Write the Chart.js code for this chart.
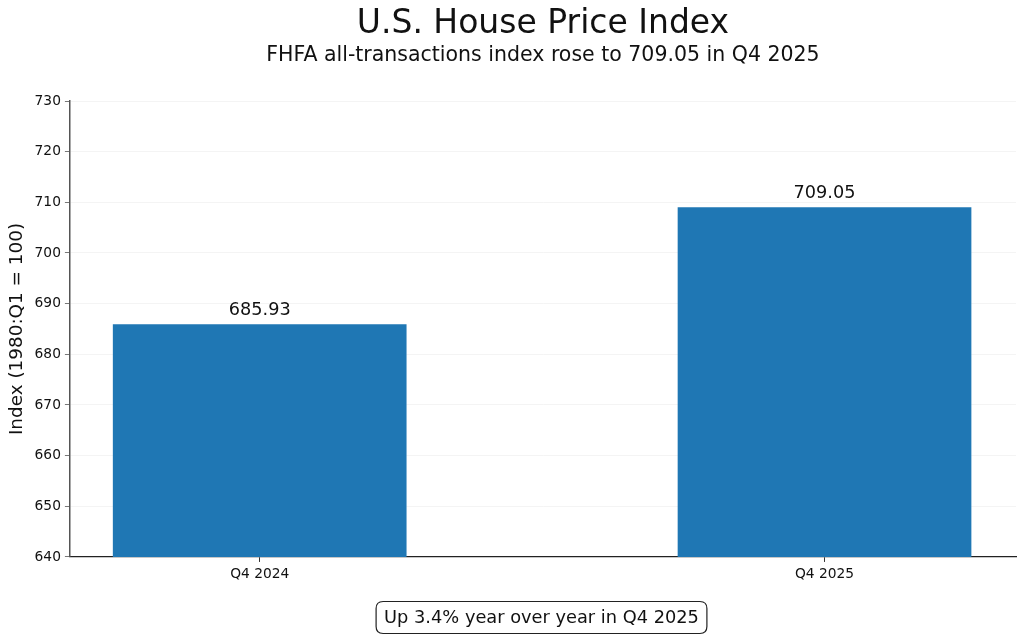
<!DOCTYPE html>
<html>
<head>
<meta charset="utf-8">
<script src="https://cdn.jsdelivr.net/npm/chart.js@4.4.1/dist/chart.umd.min.js"></script>
<style>
html,body{margin:0;padding:0;background:#fff;}
#wrap{width:1024px;height:637px;position:relative;}
</style>
</head>
<body>
<div id="wrap"><canvas id="c"></canvas></div>
<script>
const categories = ["Q4 2024", "Q4 2025"];
const indexValues = [685.93, 709.05];
const valueLabels = ["685.93", "709.05"];
const yTicks = [640, 650, 660, 670, 680, 690, 700, 710, 720, 730];
const titleText = "U.S. House Price Index";
const subtitleText = "FHFA all-transactions index rose to 709.05 in Q4 2025";
const yAxisTitle = "Index (1980:Q1 = 100)";
const noteText = "Up 3.4% year over year in Q4 2025";

const FONT = "'DejaVu Sans', sans-serif";

const titlePlugin = {
  id: 'axesTitle',
  afterDraw(chart) {
    const ctx = chart.ctx;
    const a = chart.chartArea;
    const cx = (a.left + a.right) / 2;
    ctx.save();
    ctx.fillStyle = "#111";
    ctx.textAlign = "center";
    ctx.textBaseline = "middle";
    ctx.font = "33px " + FONT;
    ctx.fillText(titleText, cx, 24);
    ctx.font = "20.5px " + FONT;
    ctx.fillText(subtitleText, cx, 56);
    ctx.restore();
  }
};

const labelPlugin = {
  id: 'valueLabels',
  afterDatasetsDraw(chart) {
    const ctx = chart.ctx;
    const meta = chart.getDatasetMeta(0);
    ctx.save();
    ctx.font = "17.7px " + FONT;
    ctx.fillStyle = "#111";
    ctx.textAlign = "center";
    ctx.textBaseline = "bottom";
    meta.data.forEach((bar, i) => {
      ctx.fillText(valueLabels[i], bar.x, bar.y - 5);
    });
    ctx.restore();
  }
};

const notePlugin = {
  id: 'note',
  afterDraw(chart) {
    const ctx = chart.ctx;
    ctx.save();
    ctx.font = "17.8px " + FONT;
    const w = ctx.measureText(noteText).width;
    const cx = 541.5, cy = 617.5;
    const padX = 8, h = 32;
    const x0 = cx - w / 2 - padX, y0 = cy - h / 2;
    const bw = w + padX * 2;
    const r = 7;
    ctx.beginPath();
    ctx.moveTo(x0 + r, y0);
    ctx.lineTo(x0 + bw - r, y0);
    ctx.quadraticCurveTo(x0 + bw, y0, x0 + bw, y0 + r);
    ctx.lineTo(x0 + bw, y0 + h - r);
    ctx.quadraticCurveTo(x0 + bw, y0 + h, x0 + bw - r, y0 + h);
    ctx.lineTo(x0 + r, y0 + h);
    ctx.quadraticCurveTo(x0, y0 + h, x0, y0 + h - r);
    ctx.lineTo(x0, y0 + r);
    ctx.quadraticCurveTo(x0, y0, x0 + r, y0);
    ctx.closePath();
    ctx.fillStyle = "#fff";
    ctx.fill();
    ctx.lineWidth = 1.2;
    ctx.strokeStyle = "#222";
    ctx.stroke();
    ctx.fillStyle = "#111";
    ctx.textAlign = "center";
    ctx.textBaseline = "middle";
    ctx.fillText(noteText, cx, cy + 1);
    ctx.restore();
  }
};

new Chart(document.getElementById('c'), {
  type: 'bar',
  data: {
    datasets: [{
      data: indexValues.map((v, i) => ({ x: i, y: v })),
      backgroundColor: '#1f77b4',
      borderWidth: 0,
      barPercentage: 0.52,
      categoryPercentage: 1.0
    }]
  },
  options: {
    responsive: true,
    maintainAspectRatio: false,
    animation: false,
    layout: { padding: { left: 6.5, right: 8, top: 101, bottom: 50.5 } },
    plugins: {
      legend: { display: false },
      tooltip: { enabled: false },
      title: { display: false },
      subtitle: { display: false }
    },
    scales: {
      x: {
        type: 'linear',
        min: -0.336,
        max: 1.339,
        offset: false,
        afterBuildTicks(scale) {
          scale.ticks = categories.map((c, i) => ({ value: i }));
        },
        ticks: {
          callback: (v) => categories[v] ?? '',
          color: '#111',
          font: { family: FONT, size: 13.8 },
          maxRotation: 0,
          padding: 4,
          autoSkip: false
        },
        grid: {
          display: true,
          offset: false,
          drawOnChartArea: false,
          drawTicks: true,
          tickLength: 5,
          color: '#333'
        },
        border: { display: true, color: '#222', width: 1.3 }
      },
      y: {
        min: 640,
        max: 730,
        afterBuildTicks(scale) {
          scale.ticks = yTicks.map(v => ({ value: v }));
        },
        ticks: {
          color: '#111',
          font: { family: FONT, size: 13.8 },
          padding: 4
        },
        title: {
          display: true,
          text: yAxisTitle,
          color: '#111',
          font: { family: FONT, size: 18.4 },
          padding: { top: 0, bottom: 2 }
        },
        grid: {
          color: 'rgba(0,0,0,0.06)',
          lineWidth: 0.8,
          tickColor: '#555',
          tickLength: 5
        },
        border: { display: true, color: '#555', width: 1.5 }
      }
    }
  },
  plugins: [labelPlugin, notePlugin, titlePlugin]
});
</script>
</body>
</html>
